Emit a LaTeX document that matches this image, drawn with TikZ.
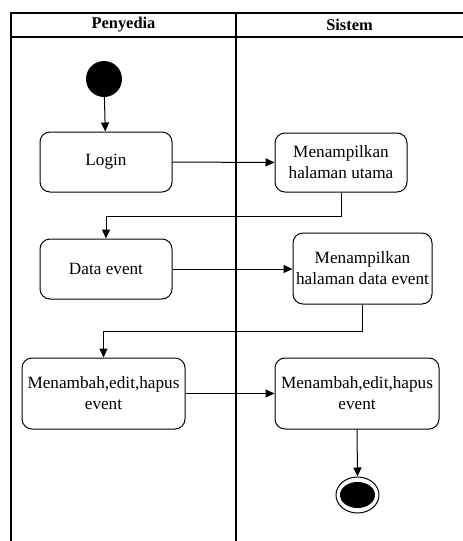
\documentclass[tikz,border=0pt]{standalone}
\usepackage{fontspec}
\setmainfont{Liberation Serif}
\usetikzlibrary{arrows.meta,shapes.geometric}

\tikzset{
  act/.style={draw,rounded corners=10pt,line width=1pt,align=center,
    font=\fontsize{17.2}{21}\selectfont,inner sep=0pt},
  startnode/.style={circle,fill=black,minimum size=36pt,inner sep=0pt},
  flow/.style={line width=1pt,-{Triangle[length=9pt,width=8pt]}},
  lane/.style={line width=1.2pt},
}

\begin{document}
\begin{tikzpicture}[x=1pt,y=-1pt]
\useasboundingbox (0,0) rectangle (463,541);

% swimlanes
\draw[lane] (11,541) -- (11,13) -- (463,13);
\draw[lane] (11,37) -- (463,37);
\draw[lane] (236,13) -- (236,541);
\node[font=\fontsize{16.4}{18}\selectfont\bfseries] (hpenyedia) at (123.5,25) {Penyedia};
\node[font=\fontsize{16.4}{18}\selectfont\bfseries] (hsistem) at (349.5,25) {Sistem};

% penyedia
\node[startnode] (start) at (104,79) {};
\node[act,minimum width=132pt,minimum height=60pt] (login) at (106,162) {Login};
\node[act,minimum width=132pt,minimum height=60pt] (data) at (106,269) {Data event};
\node[act,minimum width=163pt,minimum height=71pt] (tambah) at (103.5,393.5) {Menambah,edit,hapus\\event};

% sistem
\node[act,minimum width=132pt,minimum height=59pt] (utama) at (341,162.5) {Menampilkan\\halaman utama};
\node[act,minimum width=139pt,minimum height=71pt] (hdata) at (362.5,268.5) {Menampilkan\\halaman data event};
\node[act,minimum width=164pt,minimum height=71pt] (simpan) at (357,393.5) {Menambah,edit,hapus\\event};
\node[ellipse,draw,line width=1pt,minimum width=43pt,minimum height=36pt,inner sep=0pt] (stop) at (357.5,495) {};
\node[ellipse,fill=black,minimum width=35pt,minimum height=26pt,inner sep=0pt] (stopin) at (stop.center) {};

% alur
\draw[flow] (start) -- (login);
\draw[flow] (login) -- (utama);
\draw[flow] (utama.south) -- ++(0,24) -| (data.north);
\draw[flow] (data) -- (data -| hdata.west);
\draw[flow] (hdata.south) -- ++(0,27) -| (tambah.north);
\draw[flow] (tambah) -- (simpan);
\draw[flow] (simpan.south) -- (stop.north);
\end{tikzpicture}
\end{document}
